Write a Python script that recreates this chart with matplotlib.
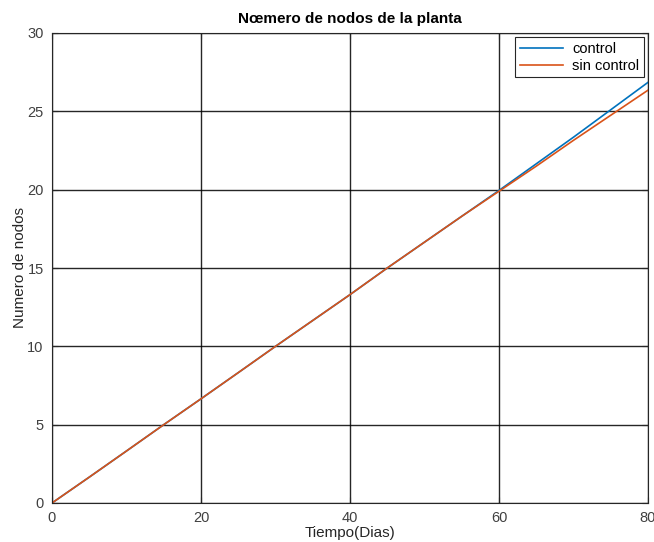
import matplotlib
matplotlib.use("Agg")
import matplotlib.pyplot as plt

plt.rcParams['font.family'] = ['Liberation Sans', 'DejaVu Sans']

days = [0, 5, 10, 15, 20, 25, 30, 35, 40, 45, 50, 55, 60, 65, 70, 75, 80]
control = [0, 1.65, 3.32, 5.0, 6.65, 8.32, 10.0, 11.65, 13.3, 15.0, 16.65, 18.3, 19.95, 21.65, 23.35, 25.1, 26.85]
sin_control = [0, 1.65, 3.32, 5.0, 6.65, 8.32, 10.0, 11.65, 13.3, 15.0, 16.65, 18.3, 19.9, 21.5, 23.15, 24.75, 26.35]

xticks = [0, 20, 40, 60, 80]
yticks = [0, 5, 10, 15, 20, 25, 30]

fig = plt.figure(figsize=(6.54, 5.42), dpi=100)
ax = fig.add_axes([52/654, 1 - 503/542, 596/654, 470/542])

ax.plot(days, control, color='#0072BD', lw=1.2, label='control')
ax.plot(days, sin_control, color='#D95319', lw=1.2, label='sin control')

ax.set_xlim(0, 80)
ax.set_ylim(0, 30)
ax.set_xticks(xticks)
ax.set_yticks(yticks)
ax.grid(True, color='#000000', lw=1.0, alpha=0.85)
ax.set_axisbelow(True)
for s in ax.spines.values():
    s.set_color('#262626')
    s.set_linewidth(0.8)
ax.tick_params(direction='in', top=True, right=True, labelsize=10.5, labelcolor='#404040',
               color='#262626', length=4, pad=6)

ax.set_title('Nœmero de nodos de la planta', fontsize=11, fontweight='bold', pad=7)
ax.set_xlabel('Tiempo(Dias)', fontsize=11, labelpad=0.5, color='#262626')
ax.set_ylabel('Numero de nodos', fontsize=11, labelpad=0, color='#262626')

leg = ax.legend(loc='upper right', fontsize=10.5, fancybox=False, framealpha=1,
                edgecolor='#262626', borderaxespad=0.3, handlelength=3.0,
                borderpad=0.3, labelspacing=0.2, handletextpad=0.6)
leg.get_frame().set_linewidth(0.8)

fig.savefig('out.png', dpi=100)
